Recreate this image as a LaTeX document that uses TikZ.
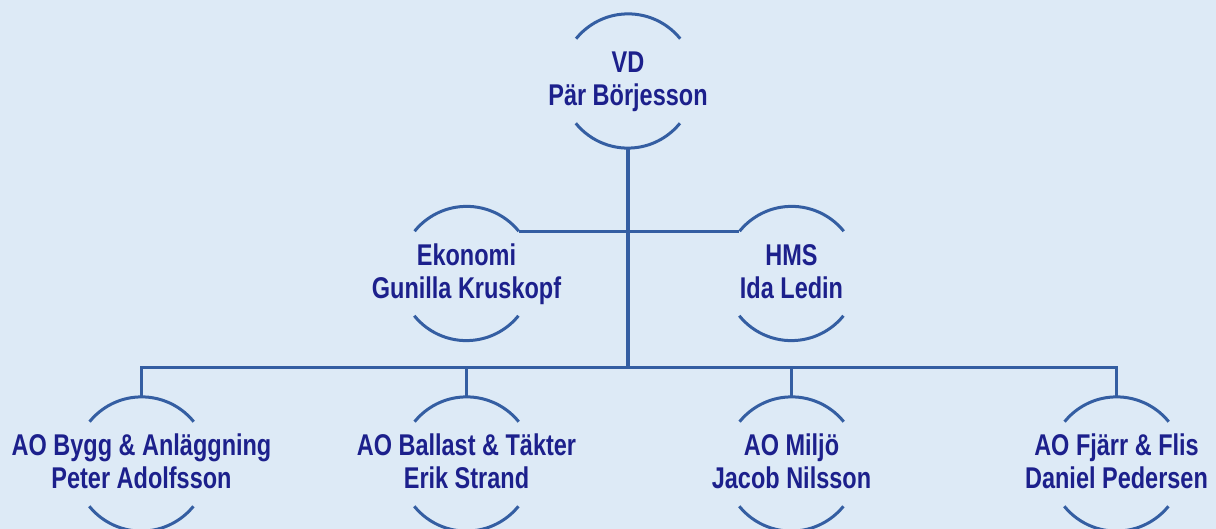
\documentclass[tikz,border=0pt]{standalone}
\usepackage{fontspec}
\setmainfont[FakeStretch=0.783]{Liberation Sans Bold}
\definecolor{bgc}{RGB}{221,234,246}
\definecolor{linec}{RGB}{52,94,162}
\definecolor{txtc}{RGB}{28,32,140}
\begin{document}
\begin{tikzpicture}[x=1pt,y=1pt,
  holder/.style={circle,minimum size=134pt,inner sep=0pt},
  arcline/.style={draw=linec,line width=3pt},
  conn/.style={draw=linec,line width=3pt},
  trunk/.style={draw=linec,line width=4pt},
  lbl/.style={anchor=base,text=txtc,font=\fontsize{30}{34}\selectfont,inner sep=0pt}]
\fill[bgc] (0,0) rectangle (1216,529);
\useasboundingbox (0,0) rectangle (1216,529);
% holders (invisible circle nodes)
\node[holder] (vd) at (628,448) {};
\node[holder] (ek) at (466.5,255.5) {};
\node[holder] (hms) at (791.5,255.5) {};
\node[holder] (b1) at (141.5,65) {};
\node[holder] (b2) at (466.5,65) {};
\node[holder] (b3) at (791.5,65) {};
\node[holder] (b4) at (1116.5,65) {};
% arcs
\foreach \n in {vd,ek,hms,b1,b2,b3,b4}{
  \draw[arcline] (\n.39) arc (39:141:67pt);
  \draw[arcline] (\n.-141) arc (-141:-39:67pt);
}
% labels
\node[lbl] (vdA) at ([yshift=8pt]vd.center) {VD};
\node[lbl] (vdB) at ([yshift=-25pt]vd.center) {Pär Börjesson};
\node[lbl] (ekA) at ([yshift=8pt]ek.center) {Ekonomi};
\node[lbl] (ekB) at ([yshift=-25pt]ek.center) {Gunilla Kruskopf};
\node[lbl] (hmsA) at ([yshift=8pt]hms.center) {HMS};
\node[lbl] (hmsB) at ([yshift=-25pt]hms.center) {Ida Ledin};
\node[lbl] (b1A) at ([yshift=8pt]b1.center) {AO Bygg \& Anläggning};
\node[lbl] (b1B) at ([yshift=-25pt]b1.center) {Peter Adolfsson};
\node[lbl] (b2A) at ([yshift=8pt]b2.center) {AO Ballast \& Täkter};
\node[lbl] (b2B) at ([yshift=-25pt]b2.center) {Erik Strand};
\node[lbl] (b3A) at ([yshift=8pt]b3.center) {AO Miljö};
\node[lbl] (b3B) at ([yshift=-25pt]b3.center) {Jacob Nilsson};
\node[lbl] (b4A) at ([yshift=8pt]b4.center) {AO Fjärr \& Flis};
\node[lbl] (b4B) at ([yshift=-25pt]b4.center) {Daniel Pedersen};
% connectors
\coordinate (bus) at (628,161);
\draw[conn] (ek.39) -- (hms.141);
\draw[conn] (b1.north) -- (b1.north |- bus) -- (b4.north |- bus) -- (b4.north);
\draw[conn] (b2.north) -- (b2.north |- bus);
\draw[conn] (b3.north) -- (b3.north |- bus);
\draw[trunk] (vd.south) -- ([yshift=-1.5pt]bus);
\end{tikzpicture}
\end{document}
